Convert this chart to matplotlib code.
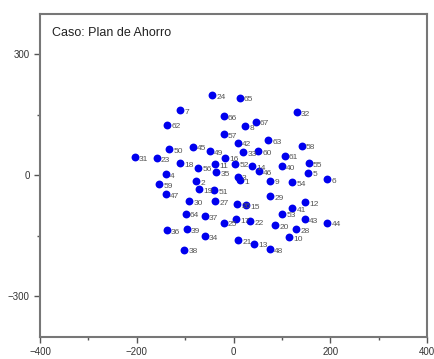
import matplotlib
matplotlib.use('Agg')
import matplotlib.pyplot as plt

plt.rcParams['font.family'] = ['Liberation Sans', 'DejaVu Sans']

# point ids and coordinates
ids = list(range(1, 68))
xs = [13, -77, 9, -140, 154, 193, -110, 24, 76, 115, -38, 148, 43, 39, 25, -18, 6, -110, -71, 86,
      9, 34, -159, -44, -20, 8, -38, 129, 76, -92, -204, 131, 20, -60, -36, -138, -60, -102, -97, 100,
      121, 9, 147, 194, -84, 52, -140, 75, -49, -133, -40, 3, 100, 121, 155, -73, -20, 141, -154, 51,
      106, -137, 72, -99, 13, -20, 46]
ys = [-12, -15, -3, 4, 7, -9, 162, 123, -13, -154, 27, -67, -169, 23, -74, 44, -109, 31, -35, -124,
      -161, -114, 42, 198, -117, -72, -63, -133, -52, -63, 46, 156, 58, -151, 8, -136, -101, -184, -133, 23,
      -81, 81, -109, -117, 71, 10, -47, -183, 61, 65, -37, 29, -95, -17, 30, 19, 103, 74, -21, 60,
      49, 126, 87, -95, 193, 146, 133]

title = 'Caso: Plan de Ahorro'
xticks = [-400, -200, 0, 200, 400]
yticks = [-300, 0, 300]

fig = plt.figure(figsize=(4.35, 3.59), dpi=100)
ax = fig.add_axes([0.092, 0.062, 0.890, 0.899])

ax.scatter(xs, ys, s=32, color='#0000ee', zorder=3, linewidths=0)
for i, x, y in zip(ids, xs, ys):
    ax.annotate(str(i), (x, y), xytext=(3, -2.7), textcoords='offset points',
                fontsize=6, color='#555555')

ax.set_xlim(-400, 400)
ax.set_ylim(-400, 400)
ax.set_xticks(xticks)
ax.set_yticks(yticks)
ax.set_xticks([-300, -100, 100, 300], minor=True)
ax.set_yticks([-150, 150], minor=True)
ax.tick_params(which='major', direction='out', length=4, width=1, colors='#555555',
               labelsize=7, labelcolor='#333333')
ax.tick_params(which='minor', direction='out', length=2, width=1, colors='#555555')
for s in ax.spines.values():
    s.set_color('#777777')
    s.set_linewidth(1.5)

ax.text(0.03, 0.96, title, transform=ax.transAxes, fontsize=9, color='#222222',
        va='top', ha='left')

fig.savefig('out.png', dpi=100)
